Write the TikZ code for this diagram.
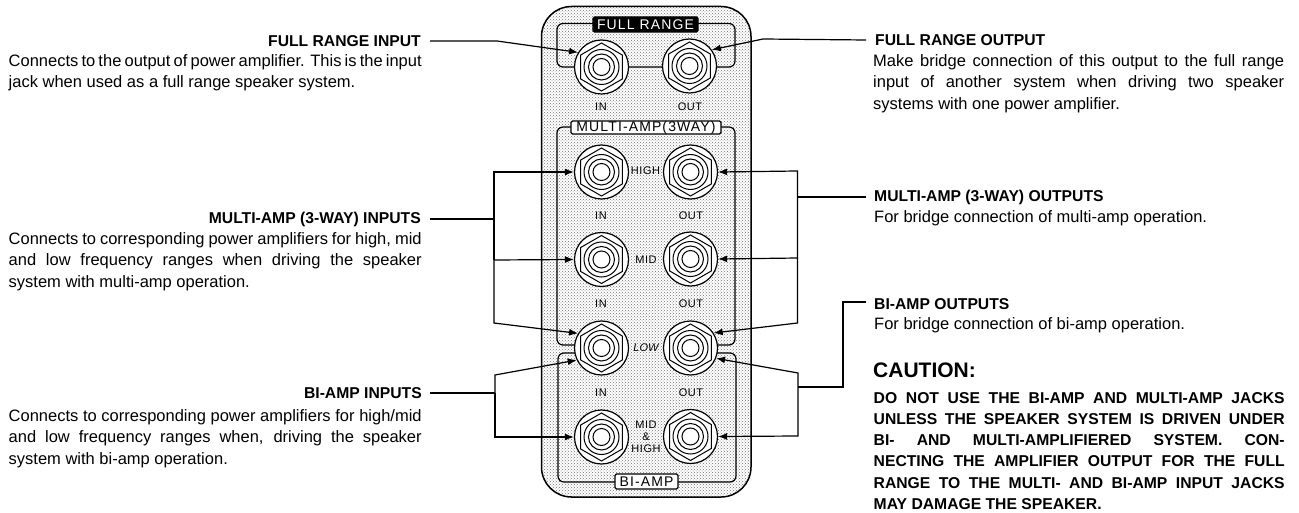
\documentclass[tikz,border=0pt]{standalone}
\usepackage{fontspec}
\setmainfont{Liberation Sans}
\usepackage{tikz}
\usetikzlibrary{arrows.meta, calc, patterns}

\tikzset{
    jack/.style={circle, draw, fill=white, line width=1.2pt, minimum size=54pt, inner sep=0pt, path picture={
        \draw[line width=1pt] ($(path picture bounding box.center)+(90:24pt)$)
            -- ($(path picture bounding box.center)+(150:24pt)$)
            -- ($(path picture bounding box.center)+(210:24pt)$)
            -- ($(path picture bounding box.center)+(270:24pt)$)
            -- ($(path picture bounding box.center)+(330:24pt)$)
            -- ($(path picture bounding box.center)+(30:24pt)$) -- cycle;
        \draw[line width=1pt] (path picture bounding box.center) circle (17.5pt);
        \draw[line width=1pt] (path picture bounding box.center) circle (13pt);
        \draw[line width=1pt] (path picture bounding box.center) circle (8.5pt);
    }},
    frameline/.style={line width=1.2pt, rounded corners=6pt},
    lead/.style={line width=1.2pt},
    tolead/.style={lead, -{Latex[length=9pt, width=7pt]}},
    panellabel/.style={inner sep=0pt, font=\fontsize{11}{12}\selectfont\addfontfeature{LetterSpace=5}, align=center},
    titlebox/.style={draw, line width=1.2pt, fill=white, rounded corners=1.5pt, inner sep=0pt, font=\fontsize{14}{14}\selectfont\addfontfeature{LetterSpace=8}},
    head/.style={inner sep=0pt, font=\fontsize{15.7}{20}\selectfont\bfseries},
    para/.style={inner sep=0pt, anchor=north west, text width=413pt, align=justify, font=\fontsize{16.5}{21.2}\selectfont},
    warn/.style={inner sep=0pt, anchor=north west, text width=411pt, align=justify, font=\fontsize{15.7}{21.1}\selectfont\bfseries}
}

\begin{document}
\begin{tikzpicture}[x=1pt, y=-1pt]
    \useasboundingbox (0, 0) rectangle (1299, 513);

    \draw[line width=1.5pt, rounded corners=30pt, pattern=crosshatch dots, pattern color=black!55] (541.5, 6.5) rectangle (751, 497);

    \draw[frameline] (557, 23.5) rectangle (735, 67);
    \draw[frameline] (590, 345) -- (557, 345) -- (557, 127) -- (735, 127) -- (735, 345) -- (702, 345);
    \draw[frameline] (590, 353) -- (558, 353) -- (558, 482) -- (736, 482) -- (736, 353) -- (702, 353);

    \node[jack] (infull) at (601.5, 67) {};
    \node[jack] (outfull) at (689.5, 66) {};
    \node[jack] (inhigh) at (601.5, 172) {};
    \node[jack] (outhigh) at (690.5, 172) {};
    \node[jack] (inmid) at (601.5, 259.5) {};
    \node[jack] (outmid) at (690.5, 259) {};
    \node[jack] (inlow) at (601.5, 348) {};
    \node[jack] (outlow) at (690.5, 348) {};
    \node[jack] (inbi) at (601.5, 437) {};
    \node[jack] (outbi) at (690.5, 436.5) {};

    \node[titlebox, fill=black, text=white, minimum width=105pt, minimum height=15pt] (fullrange) at (645.5, 24.5) {FULL RANGE};
    \node[titlebox, minimum width=150pt, minimum height=13pt] (multiamp) at (646, 127.5) {MULTI-AMP(3WAY)};
    \node[titlebox, minimum width=63pt, minimum height=15pt] (biamp) at (646.5, 481.5) {BI-AMP};

    \node[panellabel] (lblin1) at (601, 107) {IN};
    \node[panellabel] (lblout1) at (690, 107) {OUT};
    \node[panellabel] (lblin2) at (601, 215.5) {IN};
    \node[panellabel] (lblout2) at (691, 215.5) {OUT};
    \node[panellabel] (lblin3) at (601, 304) {IN};
    \node[panellabel] (lblout3) at (691, 304) {OUT};
    \node[panellabel] (lblin4) at (601, 393) {IN};
    \node[panellabel] (lblout4) at (691, 393) {OUT};
    \node[panellabel] (lblhigh) at (645.5, 171) {HIGH};
    \node[panellabel] (lblmid) at (646, 260) {MID};
    \node[panellabel, font=\fontsize{11}{12}\selectfont\itshape] (lbllow) at (646, 348) {LOW};
    \node[panellabel] (lblmidhigh) at (646, 437) {MID\\\&\\HIGH};

    \node[head, anchor=east] (fullinhead) at (421, 41) {FULL RANGE INPUT};
    \node[para] (fullintext) at (8.5, 54.5) {Connects to the output of power amplifier. This is the input\linebreak jack when used as a full range speaker system.};
    \node[head, anchor=east] (multiinhead) at (421, 219) {MULTI-AMP (3-WAY) INPUTS};
    \node[para] (multiintext) at (8.5, 232.5) {Connects to corresponding power amplifiers for high, mid\linebreak and low frequency ranges when driving the speaker\linebreak system with multi-amp operation.};
    \node[head, anchor=east] (biinhead) at (422, 393) {BI-AMP INPUTS};
    \node[para] (biintext) at (8.5, 409.5) {Connects to corresponding power amplifiers for high/mid\linebreak and low frequency ranges when, driving the speaker\linebreak system with bi-amp operation.};

    \node[head, anchor=west] (fullouthead) at (875, 40) {FULL RANGE OUTPUT};
    \node[para, text width=411pt] (fullouttext) at (873, 54.5) {Make bridge connection of this output to the full range\linebreak input of another system when driving two speaker\linebreak systems with one power amplifier.};
    \node[head, anchor=west] (multiouthead) at (874, 197) {MULTI-AMP (3-WAY) OUTPUTS};
    \node[para, text width=411pt] (multiouttext) at (874, 210.5) {For bridge connection of multi-amp operation.};
    \node[head, anchor=west] (biouthead) at (874, 304) {BI-AMP OUTPUTS};
    \node[para, text width=411pt] (biouttext) at (874, 317.5) {For bridge connection of bi-amp operation.};
    \node[head, anchor=west, font=\fontsize{21}{22}\selectfont\bfseries] (caution) at (873, 370) {CAUTION:};
    \node[warn] (warntext) at (873.5, 392.5) {DO NOT USE THE BI-AMP AND MULTI-AMP JACKS\linebreak UNLESS THE SPEAKER SYSTEM IS DRIVEN UNDER\linebreak BI- AND MULTI-AMPLIFIERED SYSTEM. CON-\linebreak NECTING THE AMPLIFIER OUTPUT FOR THE FULL\linebreak RANGE TO THE MULTI- AND BI-AMP INPUT JACKS\linebreak MAY DAMAGE THE SPEAKER.};

    \coordinate (fullinbend) at (497, 41);
    \coordinate (fulloutbend) at (763, 39);
    \coordinate (multiinbus) at (494, 219);
    \coordinate (multiintop) at (494, 172);
    \coordinate (multiinmid) at (494, 260);
    \coordinate (multiinbot) at (494, 323);
    \coordinate (biinbus) at (495, 393);
    \coordinate (biintop) at (495, 375);
    \coordinate (biinbot) at (495, 437);
    \coordinate (multioutbus) at (797.5, 197);
    \coordinate (multiouttop) at (797.5, 171);
    \coordinate (multioutmid) at (797.5, 258);
    \coordinate (multioutbot) at (797.5, 323);
    \coordinate (bioutstart) at (866, 302);
    \coordinate (bioutcorner) at (843, 302);
    \coordinate (bioutdown) at (843, 387);
    \coordinate (bioutbus) at (798, 387);
    \coordinate (bioutop) at (798, 373);
    \coordinate (bioutbot) at (798, 436);

    \draw[tolead] ([xshift=9pt]fullinhead.east) -- (fullinbend) -- (infull.148);
    \draw[tolead] ([xshift=-9pt]fullouthead.west) -- (fulloutbend) -- (outfull.36);

    \draw[lead] ([xshift=9pt]multiinhead.east) -- (multiinbus);
    \draw[tolead] (multiinmid) -- (multiintop) -- (inhigh.west);
    \draw[tolead] (multiinmid) -- (inmid.west);
    \draw[tolead] (multiinmid) -- (multiinbot) -- (inlow.148);

    \draw[lead] ([xshift=8pt]biinhead.east) -- (biinbus);
    \draw[tolead] (biinbus) -- (biintop) -- (inlow.206);
    \draw[tolead] (biinbus) -- (biinbot) -- (inbi.west);

    \draw[lead] ([xshift=-8pt]multiouthead.west) -- (multioutbus);
    \draw[tolead] (multioutmid) -- (multiouttop) -- (outhigh.east);
    \draw[tolead] (multioutmid) -- (outmid.east);
    \draw[tolead] (multioutmid) -- (multioutbot) -- (outlow.33);

    \draw[lead] (bioutstart) -- (bioutcorner) -- (bioutdown) -- (bioutbus);
    \draw[tolead] (bioutbus) -- (bioutop) -- (outlow.-22);
    \draw[tolead] (bioutbus) -- (bioutbot) -- (outbi.east);

\end{tikzpicture}
\end{document}
